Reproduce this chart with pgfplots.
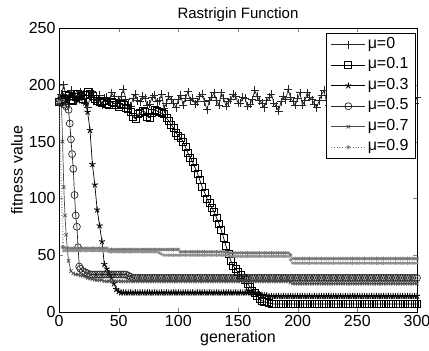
\documentclass[border=0pt]{standalone}
\usepackage{fontspec}
\setmainfont{Liberation Sans}
\usepackage{pgfplots}
\pgfplotsset{compat=1.18}
\begin{document}
\begin{tikzpicture}
\begin{axis}[
 scale only axis, width=358pt, height=284pt,
 xmin=0,xmax=300,ymin=0,ymax=250,
 xtick={0,50,...,300}, ytick={0,50,...,250},
 tick align=inside, major tick length=4pt,
 xtick pos=both, ytick pos=both,
 axis line style={black, line width=0.7pt},
 /pgf/number format/assume math mode=true,
 tick label style={font=\fontsize{16}{18}\selectfont},
 label style={font=\fontsize{16}{18}\selectfont},
 title={Rastrigin Function},
 title style={font=\fontsize{15}{17}\selectfont, at={(0.5,1)}, anchor=south, yshift=-3pt},
 xlabel={generation}, ylabel={fitness value},
 xlabel style={yshift=3pt},
 ylabel style={yshift=-1pt},
 legend style={at={(0.997,0.982)}, anchor=north east, font=\fontsize{16}{18}\selectfont, draw=black, line width=0.7pt, row sep=2pt, inner xsep=5pt, inner ysep=2pt,
   nodes={inner sep=2pt, text height=11pt, text depth=3.5pt}},
 legend cell align=left,
 legend image code/.code={\draw[mark repeat=2,mark phase=2,#1] plot coordinates {(0cm,0cm) (0.6cm,0cm) (1.2cm,0cm)};},
 every axis plot/.append style={line width=0.7pt},
]
% mu = 0
\addplot[black!85, mark=+, mark size=4pt] coordinates {
(0,185)(2,192)(4,200)(6,188)(8,183)(10,195)(12,190)(14,186)(16,188)(18,194)(20,192)(22,184)(24,180)(26,189)(28,194)(30,187)(32,186)(34,191)(36,182)(38,188)(40,189)(42,185)(44,193)(46,190)(48,184)(50,187)(52,190)(54,196)(56,187)(58,183)(60,181)(62,188)(64,192)(66,186)(68,185)(70,190)(72,188)(74,182)(76,183)(78,189)(80,191)(82,185)(84,186)(86,192)(88,179)(90,184)(92,190)(94,187)(96,184)(98,180)(100,187)(102,191)(104,182)(106,188)(108,194)(110,186)(112,188)(114,183)(116,185)(118,190)(120,192)(122,185)(124,178)(126,186)(128,189)(130,193)(132,186)(134,182)(136,193)(138,188)(140,181)(142,185)(144,187)(146,192)(148,190)(150,184)(152,184)(154,189)(156,188)(158,181)(160,183)(162,187)(164,195)(166,190)(168,186)(170,184)(172,180)(174,186)(176,189)(178,192)(180,184)(182,181)(184,177)(186,185)(188,190)(190,187)(192,196)(194,189)(196,185)(198,182)(200,188)(202,193)(204,182)(206,186)(208,193)(210,189)(212,187)(214,183)(216,180)(218,186)(220,191)(222,195)(224,186)(226,182)(228,189)(230,185)(232,184)(234,190)(236,194)(238,188)(240,187)(242,184)(244,181)(246,186)(248,190)(250,192)(252,185)(254,182)(256,192)(258,188)(260,183)(262,186)(264,188)(266,191)(268,186)(270,183)(272,179)(274,185)(276,190)(278,193)(280,187)(282,182)(284,184)(286,189)(288,193)(290,187)(292,182)(294,186)(296,178)(298,184)(300,189)};
\addlegendentry{μ=0}
% mu = 0.1
\addplot[black, mark=square, mark size=3.5pt] coordinates {
(0,185)(2,187)(4,188)(6,191)(8,190)(10,187)(12,186)(14,189)(16,192)(18,190)(20,188)(22,191)(24,194)(26,192)(28,190)(30,188)(32,186)(34,185)(36,184)(38,186)(40,183)(42,182)(44,185)(46,184)(48,182)(50,181)(52,183)(54,182)(56,180)(58,179)(60,176)(62,172)(64,170)(66,174)(68,175)(70,177)(72,176)(74,172)(76,171)(78,175)(80,178)(82,177)(84,176)(86,175)(88,174)(90,171)(92,168)(94,165)(96,162)(98,158)(100,155)(102,153)(104,150)(106,145)(108,140)(110,136)(112,132)(114,127)(116,122)(118,116)(120,110)(122,105)(124,100)(126,96)(128,92)(130,88)(132,83)(134,78)(136,72)(138,65)(140,58)(142,51)(144,45)(146,41)(148,38)(150,35)(152,33)(154,30)(156,28)(158,25)(160,22)(162,19)(164,17)(166,14)(168,12)(170,10)(172,9)(174,8.5)(176,8)(178,7.5)(180,7)(182,7)(184,7)(186,7)(188,7)(190,7)(192,7)(194,7)(196,7)(198,7)(200,7)(202,7)(204,7)(206,7)(208,7)(210,7)(212,7)(214,7)(216,7)(218,7)(220,7)(222,7)(224,7)(226,7)(228,7)(230,7)(232,7)(234,7)(236,7)(238,7)(240,7)(242,7)(244,7)(246,7)(248,7)(250,7)(252,7)(254,7)(256,7)(258,7)(260,7)(262,7)(264,7)(266,7)(268,7)(270,7)(272,7)(274,7)(276,7)(278,7)(280,7)(282,7)(284,7)(286,7)(288,7)(290,7)(292,7)(294,7)(296,7)(298,7)(300,7)};
\addlegendentry{μ=0.1}
% mu = 0.3
\addplot[black, mark=star, mark size=3.2pt, mark options={line width=0.9pt}] coordinates {
(0,185)(2,188)(4,190)(6,187)(8,188)(10,191)(12,192)(14,189)(16,186)(18,188)(20,190)(22,184)(24,176)(26,160)(28,130)(30,112)(32,90)(34,76)(36,62)(38,42)(40,38)(42,34)(44,30)(46,25)(48,20)(50,18)(52,17)(54,17)(56,17)(58,17)(60,17)(62,17)(64,17)(66,17)(68,17)(70,17)(72,17)(74,17)(76,17)(78,17)(80,17)(82,17)(84,17)(86,17)(88,17)(90,17)(92,17)(94,17)(96,17)(98,17)(100,17)(102,17)(104,17)(106,17)(108,17)(110,17)(112,17)(114,17)(116,17)(118,17)(120,17)(122,17)(124,17)(126,17)(128,17)(130,17)(132,17)(134,17)(136,17)(138,17)(140,17)(142,17)(144,17)(146,17)(148,17)(150,17)(152,17)(154,17)(156,17)(158,17)(160,17)(162,17)(164,16.5)(166,16)(168,15.5)(170,15)(172,15)(174,14.5)(176,14)(178,14)(180,14)(182,14)(184,14)(186,14)(188,14)(190,14)(192,14)(194,14)(196,14)(198,14)(200,14)(202,14)(204,14)(206,14)(208,14)(210,14)(212,14)(214,14)(216,14)(218,14)(220,14)(222,14)(224,14)(226,14)(228,14)(230,14)(232,14)(234,14)(236,14)(238,14)(240,14)(242,14)(244,14)(246,14)(248,14)(250,14)(252,14)(254,14)(256,14)(258,14)(260,14)(262,14)(264,14)(266,14)(268,14)(270,14)(272,14)(274,14)(276,14)(278,14)(280,14)(282,14)(284,14)(286,14)(288,14)(290,14)(292,14)(294,14)(296,14)(298,14)(300,14)};
\addlegendentry{μ=0.3}
% mu = 0.5
\addplot[black!85, mark=o, mark size=3.5pt] coordinates {
(0,185)(2,184)(4,183)(6,181)(8,178)(9,166)(10,152)(11,139)(12,126)(13,103)(14,85)(15,75)(16,57)(17,40)(18,38)(20,36)(22,35)(24,34)(26,33)(28,33)(30,33)(32,33)(34,33)(36,33)(38,33)(40,33)(42,33)(44,33)(46,33)(48,33)(50,33)(52,33)(54,33)(56,33)(58,32)(60,31)(62,30)(64,30)(66,30)(68,30)(70,30)(72,30)(74,30)(76,30)(78,30)(80,30)(82,30)(84,30)(86,30)(88,30)(90,30)(92,30)(94,30)(96,30)(98,30)(100,30)(102,30)(104,30)(106,30)(108,30)(110,30)(112,30)(114,30)(116,30)(118,30)(120,30)(122,30)(124,30)(126,30)(128,30)(130,30)(132,30)(134,30)(136,30)(138,30)(140,30)(142,30)(144,30)(146,30)(148,30)(150,30)(152,30)(154,30)(156,30)(158,30)(160,30)(162,30)(164,30)(166,30)(168,30)(170,30)(172,30)(174,30)(176,30)(178,30)(180,30)(182,30)(184,30)(186,30)(188,30)(190,30)(192,30)(194,30)(196,30)(198,30)(200,30)(202,30)(204,30)(206,30)(208,30)(210,30)(212,30)(214,30)(216,30)(218,30)(220,30)(222,30)(224,30)(226,30)(228,30)(230,30)(232,30)(234,30)(236,30)(238,30)(240,30)(242,30)(244,30)(246,30)(248,30)(250,30)(252,30)(254,30)(256,30)(258,30)(260,30)(262,30)(264,30)(266,30)(268,30)(270,30)(272,30)(274,30)(276,30)(278,30)(280,30)(282,30)(284,30)(286,30)(288,30)(290,30)(292,30)(294,30)(296,30)(298,30)(300,30)};
\addlegendentry{μ=0.5}
% mu = 0.7
\addplot[black!70, mark=x, mark size=2.4pt] coordinates {
(0,190)(2,186)(3,150)(4,110)(5,85)(6,68)(7,55)(8,45)(10,36)(12,34)(14,33)(16,33)(18,32)(20,32)(22,31)(24,30)(26,29.5)(28,29)(30,28.5)(32,28)(34,28)(36,28)(38,27)(40,27)(42,27)(44,27)(46,27)(48,27)(50,27)(52,27)(54,27)(56,27)(58,27)(60,27)(62,27)(64,27)(66,27)(68,27)(70,27)(72,27)(74,27)(76,27)(78,27)(80,27)(82,27)(84,27)(86,27)(88,27)(90,27)(92,27)(94,27)(96,27)(98,27)(100,27)(102,27)(104,27)(106,27)(108,27)(110,27)(112,27)(114,27)(116,27)(118,27)(120,27)(122,27)(124,27)(126,27)(128,27)(130,27)(132,27)(134,27)(136,27)(138,27)(140,27)(142,27)(144,27)(146,27)(148,27)(150,27)(152,27)(154,27)(156,27)(158,27)(160,27)(162,27)(164,27)(166,27)(168,27)(170,27)(172,27)(174,27)(176,27)(178,27)(180,27)(182,27)(184,27)(186,27)(188,27)(190,27)(192,27)(194,26)(196,25)(198,25)(200,25)(202,25)(204,25)(206,25)(208,25)(210,25)(212,25)(214,25)(216,25)(218,25)(220,25)(222,25)(224,25)(226,25)(228,25)(230,25)(232,25)(234,25)(236,25)(238,25)(240,25)(242,25)(244,25)(246,25)(248,25)(250,25)(252,25)(254,25)(256,25)(258,25)(260,25)(262,25)(264,25)(266,25)(268,25)(270,25)(272,25)(274,25)(276,25)(278,25)(280,25)(282,25)(284,25)(286,25)(288,25)(290,25)(292,25)(294,25)(296,25)(298,25)(300,25)};
\addlegendentry{μ=0.7}
% mu = 0.9
\addplot[black!55, dotted, mark=asterisk, mark size=2pt, mark options={solid}] coordinates {
(0,185)(3,57)(4,57)(6,56)(8,56)(10,56)(12,56)(14,56)(16,56)(18,56)(20,56)(22,56)(24,56)(26,56)(28,56)(30,56)(32,56)(34,56)(36,56)(38,56)(40,56)(42,55)(44,55)(46,55)(48,55)(50,55)(52,55)(54,55)(56,55)(58,55)(60,55)(62,55)(64,55)(66,55)(68,55)(70,55)(72,55)(74,55)(76,55)(78,55)(80,55)(82,55)(84,55)(86,55)(88,55)(90,55)(92,55)(94,55)(96,55)(98,55)(100,55)(102,53)(104,53)(106,53)(108,53)(110,53)(112,53)(114,53)(116,53)(118,53)(120,53)(122,53)(124,53)(126,53)(128,53)(130,53)(132,53)(134,53)(136,53)(138,53)(140,53)(142,52)(144,52)(146,52)(148,52)(150,52)(152,52)(154,52)(156,52)(158,52)(160,52)(162,52)(164,52)(166,52)(168,52)(170,52)(172,52)(174,52)(176,52)(178,52)(180,52)(182,52)(184,52)(186,52)(188,52)(190,52)(192,52)(194,50)(196,47)(198,47)(200,47)(202,47)(204,47)(206,47)(208,47)(210,47)(212,47)(214,47)(216,47)(218,47)(220,47)(222,47)(224,47)(226,47)(228,47)(230,47)(232,47)(234,47)(236,47)(238,47)(240,47)(242,47)(244,47)(246,47)(248,47)(250,47)(252,47)(254,47)(256,47)(258,47)(260,47)(262,47)(264,47)(266,47)(268,47)(270,47)(272,47)(274,47)(276,47)(278,47)(280,47)(282,47)(284,47)(286,47)(288,47)(290,47)(292,47)(294,47)(296,47)(298,47)(300,47)};
\addlegendentry{μ=0.9}
\addplot[black!45, dotted, mark=asterisk, mark size=1.8pt, mark options={solid}, forget plot] coordinates {
(0,185)(4,54)(6,54)(8,54)(10,54)(12,54)(14,54)(16,54)(18,54)(20,54)(22,54)(24,54)(26,54)(28,54)(30,54)(32,54)(34,54)(36,54)(38,54)(40,54)(42,53)(44,53)(46,53)(48,53)(50,53)(52,53)(54,53)(56,53)(58,53)(60,53)(62,53)(64,53)(66,53)(68,53)(70,53)(72,53)(74,53)(76,53)(78,53)(80,53)(82,53)(84,52)(86,51)(88,50)(90,50)(92,50)(94,50)(96,50)(98,50)(100,50)(102,50)(104,50)(106,50)(108,50)(110,50)(112,50)(114,50)(116,50)(118,50)(120,50)(122,50)(124,50)(126,50)(128,50)(130,50)(132,50)(134,50)(136,50)(138,50)(140,50)(142,50)(144,49)(146,49)(148,49)(150,49)(152,49)(154,49)(156,49)(158,49)(160,49)(162,49)(164,49)(166,49)(168,49)(170,49)(172,49)(174,49)(176,49)(178,49)(180,49)(182,49)(184,49)(186,49)(188,49)(190,49)(192,49)(194,46)(196,43)(198,43)(200,43)(202,43)(204,43)(206,43)(208,43)(210,43)(212,43)(214,43)(216,43)(218,43)(220,43)(222,43)(224,43)(226,43)(228,43)(230,43)(232,43)(234,43)(236,43)(238,43)(240,43)(242,43)(244,43)(246,43)(248,43)(250,43)(252,43)(254,43)(256,43)(258,43)(260,43)(262,43)(264,43)(266,43)(268,43)(270,43)(272,43)(274,43)(276,43)(278,43)(280,43)(282,43)(284,43)(286,43)(288,43)(290,43)(292,43)(294,43)(296,43)(298,43)(300,43)};
\end{axis}
\pgfresetboundingbox
\path ([shift={(-59pt,-39pt)}]current axis.south west) rectangle ([shift={(12pt,28pt)}]current axis.north east);
\end{tikzpicture}
\end{document}
